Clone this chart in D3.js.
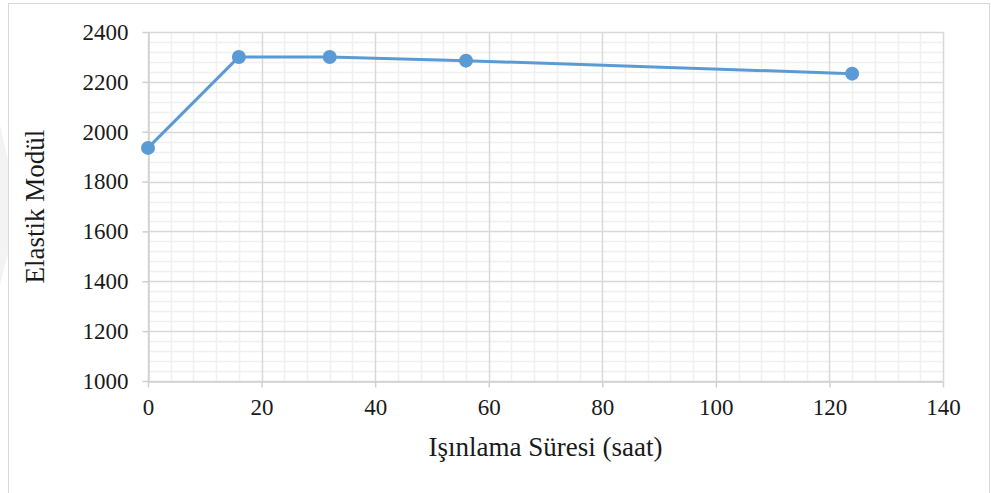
<!DOCTYPE html>
<html>
<head>
<meta charset="utf-8">
<script src="https://cdn.jsdelivr.net/npm/d3@7"></script>
<style>
  body { margin: 0; background: #fff; }
  svg text { font-family: "Liberation Serif", "Times New Roman", serif; fill: #1a1a1a; }
</style>
</head>
<body>
<div id="chart"></div>
<script>
// data
const hours = [0, 16, 32, 56, 124];
const modulus = [1935, 2300, 2300, 2285, 2233];
const xTicks = [0, 20, 40, 60, 80, 100, 120, 140];
const yTicks = [1000, 1200, 1400, 1600, 1800, 2000, 2200, 2400];

const width = 991;
const height = 493;
const margin = { left: 148, right: 48, top: 32, bottom: 112 };

const svg = d3
  .select('#chart')
  .append('svg')
  .attr('width', width)
  .attr('height', height);

// faint watermark at far left
svg.append('path')
  .attr('d', 'M0,125 L9,165 L9,250 L0,285 Z')
  .attr('fill', '#f3f3f3');

// chart border
svg.append('rect')
  .attr('x', 8.5)
  .attr('y', 3.5)
  .attr('width', 981)
  .attr('height', 500)
  .attr('fill', 'none')
  .attr('stroke', '#d9d9d9');

const x = d3.scaleLinear().domain([0, 140]).range([margin.left, width - margin.right]);
const y = d3.scaleLinear().domain([1000, 2400]).range([height - margin.bottom, margin.top]);

const g = svg.append('g');

// minor grid
const xMinor = d3.range(0, 141, 4).filter(v => v % 20 !== 0);
const yMinor = d3.range(1000, 2401, 40).filter(v => v % 200 !== 0);
g.append('g')
  .selectAll('line')
  .data(xMinor)
  .join('line')
  .attr('x1', d => Math.round(x(d)) + 0.5)
  .attr('x2', d => Math.round(x(d)) + 0.5)
  .attr('y1', y(2400))
  .attr('y2', y(1000))
  .attr('stroke', '#f0f0f0')
  .attr('stroke-width', 1.5);
g.append('g')
  .selectAll('line')
  .data(yMinor)
  .join('line')
  .attr('x1', x(0))
  .attr('x2', x(140))
  .attr('y1', d => Math.round(y(d)) + 0.5)
  .attr('y2', d => Math.round(y(d)) + 0.5)
  .attr('stroke', '#f0f0f0')
  .attr('stroke-width', 1.5);

// major grid
g.append('g')
  .selectAll('line')
  .data(xTicks)
  .join('line')
  .attr('x1', d => Math.round(x(d)) + 0.5)
  .attr('x2', d => Math.round(x(d)) + 0.5)
  .attr('y1', y(2400))
  .attr('y2', y(1000))
  .attr('stroke', '#d9d9d9')
  .attr('stroke-width', 1.5);
g.append('g')
  .selectAll('line')
  .data(yTicks)
  .join('line')
  .attr('x1', x(0))
  .attr('x2', x(140))
  .attr('y1', d => Math.round(y(d)) + 0.5)
  .attr('y2', d => Math.round(y(d)) + 0.5)
  .attr('stroke', '#d9d9d9')
  .attr('stroke-width', 1.5);

// axes
const xAxis = g.append('g')
  .attr('transform', `translate(0,${Math.round(y(1000)) + 0.5})`)
  .call(d3.axisBottom(x).tickValues(xTicks).tickFormat(d3.format('d')).tickSize(6).tickPadding(11).tickSizeOuter(0));
const yAxis = g.append('g')
  .attr('transform', `translate(${Math.round(x(0)) + 0.5},0)`)
  .call(d3.axisLeft(y).tickValues(yTicks).tickFormat(d3.format('d')).tickSize(6).tickPadding(14).tickSizeOuter(0));

[xAxis, yAxis].forEach(a => {
  a.attr('font-family', null).attr('font-size', null);
  a.select('.domain').attr('stroke', '#d0d0d0').attr('stroke-width', 1.5);
  a.selectAll('.tick line').attr('stroke', '#d0d0d0').attr('stroke-width', 1.5);
  a.selectAll('.tick text')
    .attr('fill', '#1a1a1a')
    .style('font-family', '"Liberation Serif", "Times New Roman", serif')
    .style('font-size', '23px');
});

// series line and markers
const line = d3.line().x((d, i) => x(hours[i])).y(d => y(d));
g.append('path')
  .datum(modulus)
  .attr('fill', 'none')
  .attr('stroke', '#5b9bd5')
  .attr('stroke-width', 3)
  .attr('stroke-linejoin', 'round')
  .attr('d', line);

g.append('g')
  .selectAll('circle')
  .data(modulus)
  .join('circle')
  .attr('cx', (d, i) => x(hours[i]))
  .attr('cy', d => y(d))
  .attr('r', 7)
  .attr('fill', '#5b9bd5');

// axis titles
svg.append('text')
  .attr('x', (x(0) + x(140)) / 2)
  .attr('y', 456)
  .attr('text-anchor', 'middle')
  .style('font-size', '27px')
  .text('Işınlama Süresi (saat)');

svg.append('text')
  .attr('transform', `translate(44,${(y(1000) + y(2400)) / 2}) rotate(-90)`)
  .attr('text-anchor', 'middle')
  .style('font-size', '27px')
  .text('Elastik Modül');
</script>
</body>
</html>
